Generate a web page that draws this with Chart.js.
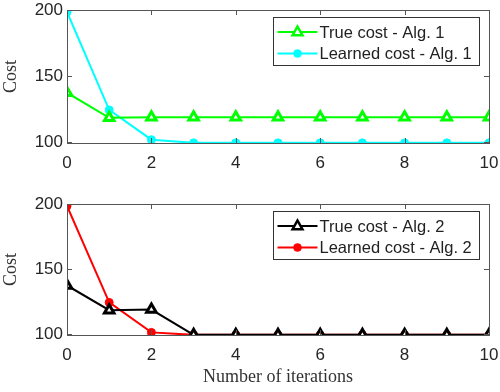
<!DOCTYPE html>
<html>
<head>
<meta charset="utf-8">
<script src="https://cdn.jsdelivr.net/npm/chart.js@4.4.0/dist/chart.umd.min.js"></script>
<style>
  html, body { margin: 0; padding: 0; background: #fff; }
  #wrap { position: relative; width: 500px; height: 392px; }
  .box { position: absolute; left: 0; width: 500px; }
</style>
</head>
<body>
<div id="wrap">
  <div class="box" style="top:0;height:175px"><canvas id="top"></canvas></div>
  <div class="box" style="top:190px;height:202px"><canvas id="bottom"></canvas></div>
</div>
<script>
// data
const iterations = [0, 1, 2, 3, 4, 5, 6, 7, 8, 9, 10];
const trueCost1 = [137.5, 118.5, 119, 119, 119, 119, 119, 119, 119, 119, 119];
const learnedCost1 = [198.5, 124.5, 102, 99.6, 99.6, 99.6, 99.6, 99.6, 99.6, 99.6, 99.6];
const trueCost2 = [137.5, 118.5, 119, 99.6, 99.6, 99.6, 99.6, 99.6, 99.6, 99.6, 99.6];
const learnedCost2 = [198.5, 124.5, 101.5, 99.6, 99.6, 99.6, 99.6, 99.6, 99.6, 99.6, 99.6];
const xTicks = [0, 2, 4, 6, 8, 10];
const yTicks = [100, 150, 200];

const sans = "'Liberation Sans', Arial, sans-serif";
const tickFont = { family: sans, size: 17 };
const serifFont = { family: "'Liberation Serif', 'DejaVu Serif', serif", size: 18 };
const axisColor = '#555';

function pts(ys) {
    return ys.map(function(y, i) { return { x: iterations[i], y: y }; });
}

function series(label, ys, color, style) {
    const tri = style === 'triangle';
    return {
        label: label,
        data: pts(ys),
        borderColor: color,
        backgroundColor: color,
        borderWidth: 2,
        pointStyle: style,
        pointRadius: tri ? 5.5 : 4,
        pointBorderWidth: tri ? 3 : 1,
        pointBackgroundColor: tri ? '#fff' : color,
        pointBorderColor: color,
        tension: 0
    };
}

// matlab style box with inward ticks, plus a legend inside the plot
const boxPlugin = {
    id: 'boxPlugin',
    afterDraw: function(chart) {
        const ctx = chart.ctx;
        const a = chart.chartArea;
        const xs = chart.scales.x, ys = chart.scales.y;
        ctx.save();
        ctx.strokeStyle = axisColor;
        ctx.lineWidth = 1;
        ctx.strokeRect(Math.round(a.left) + 0.5, Math.round(a.top) + 0.5,
            Math.round(a.right - a.left), Math.round(a.bottom - a.top));
        ctx.beginPath();
        xTicks.forEach(function(v) {
            const px = Math.round(xs.getPixelForValue(v)) + 0.5;
            ctx.moveTo(px, a.bottom); ctx.lineTo(px, a.bottom - 5);
            ctx.moveTo(px, a.top); ctx.lineTo(px, a.top + 5);
        });
        yTicks.forEach(function(v) {
            const py = Math.round(ys.getPixelForValue(v)) + 0.5;
            ctx.moveTo(a.left, py); ctx.lineTo(a.left + 5, py);
            ctx.moveTo(a.right, py); ctx.lineTo(a.right - 5, py);
        });
        ctx.stroke();

        // legend
        const lw = 206, lh = 48;
        const lx = Math.round(a.right - 10 - lw) + 0.5;
        const ly = Math.round(a.top + 7) + 0.5;
        ctx.fillStyle = '#fff';
        ctx.fillRect(lx, ly, lw, lh);
        ctx.strokeStyle = '#333';
        ctx.strokeRect(lx, ly, lw, lh);
        ctx.font = '16.5px ' + sans;
        ctx.textBaseline = 'middle';
        chart.data.datasets.forEach(function(ds, i) {
            const cy = ly + 14.5 + i * 21.5;
            const mx = lx + 24;
            ctx.strokeStyle = ds.borderColor;
            ctx.lineWidth = 2;
            ctx.beginPath();
            ctx.moveTo(lx + 4, cy); ctx.lineTo(lx + 44, cy);
            ctx.stroke();
            ctx.fillStyle = ds.pointBackgroundColor;
            ctx.strokeStyle = ds.pointBorderColor;
            ctx.lineWidth = ds.pointBorderWidth - 0.5;
            ctx.beginPath();
            if (ds.pointStyle === 'triangle') {
                const r = ds.pointRadius;
                ctx.moveTo(mx, cy - r);
                ctx.lineTo(mx + r * 0.9, cy + r * 0.6);
                ctx.lineTo(mx - r * 0.9, cy + r * 0.6);
                ctx.closePath();
            } else {
                ctx.arc(mx, cy, ds.pointRadius, 0, Math.PI * 2);
            }
            ctx.fill();
            ctx.stroke();
            ctx.fillStyle = '#222';
            ctx.fillText(ds.label, lx + 46, cy + 1);
        });
        ctx.restore();
    }
};

function noPad(s) {
    s.paddingLeft = 0; s.paddingRight = 0;
    s.paddingTop = 0; s.paddingBottom = 0;
}

function makeChart(id, datasets, padTop, xHeight, showXTitle) {
    return new Chart(document.getElementById(id), {
        type: 'line',
        data: { datasets: datasets },
        options: {
            responsive: true,
            maintainAspectRatio: false,
            animation: false,
            layout: { padding: { top: padTop, right: 11, left: 0, bottom: 0 } },
            plugins: { legend: { display: false }, tooltip: { enabled: false } },
            scales: {
                x: {
                    type: 'linear',
                    min: 0, max: 10,
                    afterBuildTicks: function(s) { s.ticks = xTicks.map(function(v) { return { value: v }; }); },
                    afterFit: function(s) { s.height = xHeight; noPad(s); },
                    grid: { display: false, drawTicks: false },
                    border: { display: false },
                    ticks: { font: tickFont, color: '#262626', padding: 10, maxRotation: 0 },
                    title: {
                        display: showXTitle,
                        text: 'Number of iterations',
                        font: serifFont,
                        color: '#333',
                        padding: { top: 0 }
                    }
                },
                y: {
                    min: 99.5, max: 200,
                    afterBuildTicks: function(s) { s.ticks = yTicks.map(function(v) { return { value: v }; }); },
                    afterFit: function(s) { s.width = 67; noPad(s); },
                    grid: { display: false, drawTicks: false },
                    border: { display: false },
                    ticks: { font: tickFont, color: '#262626', padding: 4 },
                    title: {
                        display: true,
                        text: 'Cost',
                        font: serifFont,
                        color: '#333',
                        padding: { top: 0, bottom: 0 }
                    }
                }
            }
        },
        plugins: [boxPlugin]
    });
}

makeChart('top', [
    series('True cost - Alg. 1', trueCost1, '#00ff00', 'triangle'),
    series('Learned cost - Alg. 1', learnedCost1, '#00ffff', 'circle')
], 10, 32, false);

makeChart('bottom', [
    series('True cost - Alg. 2', trueCost2, '#000000', 'triangle'),
    series('Learned cost - Alg. 2', learnedCost2, '#ff0000', 'circle')
], 14, 57, true);
</script>
</body>
</html>
